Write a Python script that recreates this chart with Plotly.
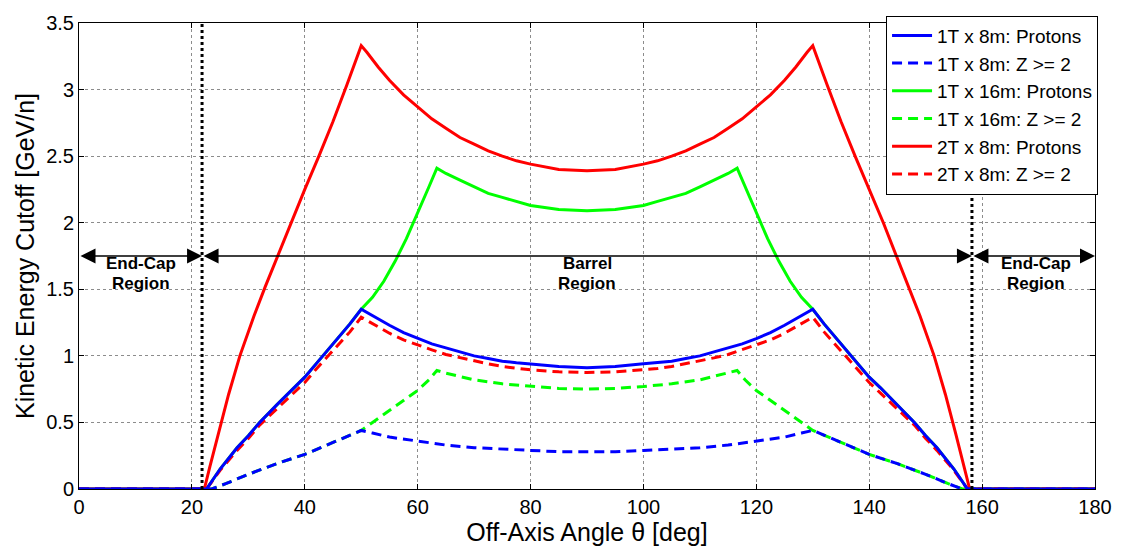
import plotly.graph_objects as go

# ---------------- data ----------------
# 2T x 8m : Protons
red_sol_x = [0, 22.2, 23.2, 24.7, 26.5, 28.5, 31, 33, 35, 37.5, 40, 42.5, 45, 47.5, 50, 51, 53, 55, 57.5, 60, 62.5,
             65, 67.5, 70, 72.5, 75, 77.5, 80, 85, 90,
             95, 100, 102.5, 105, 107.5, 110, 112.5, 115, 117.5, 120, 122.5, 125, 127, 129, 130,
             132.5, 135, 137.5, 140, 142.5, 145, 147, 149, 151.5, 153.5, 155.3, 156.8, 157.8, 180]
red_sol_y = [0, 0, 0.17, 0.42, 0.71, 1.0, 1.3, 1.52, 1.73, 2.0, 2.25, 2.5, 2.76, 3.04, 3.33, 3.28, 3.17, 3.07, 2.96,
             2.87, 2.78, 2.71, 2.64, 2.59, 2.54, 2.50, 2.465, 2.44, 2.40, 2.39,
             2.40, 2.44, 2.465, 2.50, 2.54, 2.59, 2.64, 2.71, 2.78, 2.87, 2.96, 3.07, 3.17, 3.28, 3.33,
             3.04, 2.76, 2.5, 2.25, 2.0, 1.73, 1.52, 1.3, 1.0, 0.71, 0.42, 0.17, 0, 0]

# 1T x 8m : Protons
blue_sol_x = [0, 22.6, 25, 28, 30, 32, 35, 38, 40, 42, 45, 48, 50, 52, 55, 57.5, 60, 62.5, 65, 67.5, 70, 72.5, 75,
              77.5, 80, 85, 90,
              95, 100, 102.5, 105, 107.5, 110, 112.5, 115, 117.5, 120, 122.5, 125, 128, 130,
              132, 135, 138, 140, 142, 145, 148, 150, 152, 155, 157.4, 180]
blue_sol_y = [0, 0, 0.15, 0.31, 0.40, 0.50, 0.63, 0.76, 0.84, 0.94, 1.09, 1.24, 1.35, 1.30, 1.23, 1.175, 1.13, 1.09,
              1.06, 1.03, 1.00, 0.98, 0.96, 0.948, 0.94, 0.92, 0.91,
              0.92, 0.94, 0.948, 0.96, 0.98, 1.00, 1.03, 1.06, 1.09, 1.13, 1.175, 1.23, 1.30, 1.35,
              1.24, 1.09, 0.94, 0.84, 0.76, 0.63, 0.50, 0.40, 0.31, 0.15, 0, 0]

# 2T x 8m : Z >= 2
red_dash_x = [0, 22.6, 25, 28, 30, 32, 35, 38, 40, 42, 45, 48, 50, 52, 55, 57.5, 60, 62.5, 65, 67.5, 70, 72.5, 75,
              77.5, 80, 85, 90,
              95, 100, 102.5, 105, 107.5, 110, 112.5, 115, 117.5, 120, 122.5, 125, 128, 130,
              132, 135, 138, 140, 142, 145, 148, 150, 152, 155, 157.4, 180]
red_dash_y = [0, 0, 0.14, 0.29, 0.38, 0.48, 0.60, 0.72, 0.80, 0.90, 1.04, 1.18, 1.29, 1.24, 1.17, 1.12, 1.08, 1.045,
              1.01, 0.985, 0.96, 0.94, 0.92, 0.905, 0.895, 0.88, 0.875,
              0.88, 0.895, 0.905, 0.92, 0.94, 0.96, 0.985, 1.01, 1.045, 1.08, 1.12, 1.17, 1.24, 1.29,
              1.18, 1.04, 0.90, 0.80, 0.72, 0.60, 0.48, 0.38, 0.29, 0.14, 0, 0]

# 1T x 8m : Z >= 2
blue_dash_x = [0, 23.5, 26, 30, 35, 40, 45, 50, 52, 55, 60, 65, 70, 75, 80, 85, 90, 95, 100, 105, 110, 115, 120, 125,
               128, 130, 135, 140, 145, 150, 154, 156.5, 180]
blue_dash_y = [0, 0, 0.04, 0.11, 0.19, 0.26, 0.35, 0.44, 0.42, 0.39, 0.36, 0.33, 0.31, 0.30, 0.29, 0.28, 0.28, 0.28,
               0.29, 0.30, 0.31, 0.33, 0.36, 0.39, 0.42, 0.44, 0.35, 0.26, 0.19, 0.11, 0.04, 0, 0]

# 1T x 16m : Protons
green_sol_x = [0, 22.6, 25, 28, 30, 32, 35, 38, 40, 42, 45, 48, 50, 52, 54, 56, 58, 60, 62, 63.4, 65, 67.5, 70,
               72.5, 75, 77.5, 80, 85, 90,
               95, 100, 102.5, 105, 107.5, 110, 112.5, 115, 116.6, 118, 120, 122, 124, 126, 128, 130,
               132, 135, 138, 140, 142, 145, 148, 150, 152, 155, 157.4, 180]
green_sol_y = [0, 0, 0.15, 0.31, 0.40, 0.50, 0.63, 0.76, 0.84, 0.94, 1.09, 1.24, 1.35, 1.44, 1.56, 1.71, 1.88, 2.07,
               2.27, 2.41, 2.37, 2.32, 2.27, 2.22, 2.19, 2.16, 2.13, 2.10, 2.09,
               2.10, 2.13, 2.16, 2.19, 2.22, 2.27, 2.32, 2.37, 2.41, 2.27, 2.07, 1.88, 1.71, 1.56, 1.44, 1.35,
               1.24, 1.09, 0.94, 0.84, 0.76, 0.63, 0.50, 0.40, 0.31, 0.15, 0, 0]

# 1T x 16m : Z >= 2
green_dash_x = [0, 23.5, 26, 30, 35, 40, 45, 50, 52, 54, 56, 58, 60, 62, 63.4, 65, 70, 75, 80, 85, 90, 95, 100, 105,
                110, 115, 116.6, 118, 120, 122, 124, 126, 128, 130, 135, 140, 145, 150, 154, 156.5, 180]
green_dash_y = [0, 0, 0.04, 0.11, 0.19, 0.26, 0.35, 0.44, 0.50, 0.56, 0.62, 0.68, 0.74, 0.82, 0.89, 0.87, 0.82, 0.79,
                0.77, 0.755, 0.75, 0.755, 0.77, 0.79, 0.82, 0.87, 0.89, 0.82, 0.74, 0.68, 0.62, 0.56, 0.50, 0.44,
                0.35, 0.26, 0.19, 0.11, 0.04, 0, 0]

x_ticks = [0, 20, 40, 60, 80, 100, 120, 140, 160, 180]
x_tick_text = ["0", "20", "40", "60", "80", "100", "120", "140", "160", "180"]
y_ticks = [0, 0.5, 1, 1.5, 2, 2.5, 3, 3.5]
y_tick_text = ["0", "0.5", "1", "1.5", "2", "2.5", "3", "3.5"]

region_bounds = [21.8, 158.2]
arrow_level = 1.75

FONT = "Liberation Sans, Arial, sans-serif"
BLUE = "#0000FF"
GREEN = "#00FF00"
RED = "#FF0000"
DASH = "10px,6px"
LW = 3

fig = go.Figure()

# drawing order: green under blue, red dashed under blue solid
fig.add_trace(go.Scatter(x=green_sol_x, y=green_sol_y, mode="lines", name="1T x 16m: Protons",
                         line=dict(color=GREEN, width=LW), legendrank=3))
fig.add_trace(go.Scatter(x=green_dash_x, y=green_dash_y, mode="lines", name="1T x 16m: Z >= 2",
                         line=dict(color=GREEN, width=LW, dash=DASH), legendrank=4))
fig.add_trace(go.Scatter(x=red_sol_x, y=red_sol_y, mode="lines", name="2T x 8m: Protons",
                         line=dict(color=RED, width=LW), legendrank=5))
fig.add_trace(go.Scatter(x=red_dash_x, y=red_dash_y, mode="lines", name="2T x 8m: Z >= 2",
                         line=dict(color=RED, width=LW, dash=DASH), legendrank=6))
fig.add_trace(go.Scatter(x=blue_dash_x, y=blue_dash_y, mode="lines", name="1T x 8m: Z >= 2",
                         line=dict(color=BLUE, width=LW, dash=DASH), legendrank=2))
fig.add_trace(go.Scatter(x=blue_sol_x, y=blue_sol_y, mode="lines", name="1T x 8m: Protons",
                         line=dict(color=BLUE, width=LW), legendrank=1))

# region boundaries
for xb in region_bounds:
    fig.add_shape(type="line", x0=xb, x1=xb, y0=0, y1=3.5, xref="x", yref="y",
                  line=dict(color="black", width=3, dash="dot"), layer="above")

# double-headed arrows
segs = [(0, region_bounds[0]), (region_bounds[0], region_bounds[1]), (region_bounds[1], 180)]
for a, b in segs:
    fig.add_annotation(x=b, y=arrow_level, ax=a, ay=arrow_level, xref="x", yref="y", axref="x", ayref="y",
                       text="", showarrow=True, arrowhead=2, startarrowhead=2, arrowside="end+start",
                       arrowsize=2, startarrowsize=2, arrowwidth=1.5, arrowcolor="black")

labels = [(11.0, "End-Cap"), (90, "Barrel"), (169.5, "End-Cap")]
for xl, t in labels:
    fig.add_annotation(x=xl, y=1.69, xref="x", yref="y", text="<b>%s</b>" % t, showarrow=False,
                       font=dict(family=FONT, size=17, color="black"))
    fig.add_annotation(x=xl, y=1.546, xref="x", yref="y", text="<b>Region</b>", showarrow=False,
                       font=dict(family=FONT, size=17, color="black"))

axis_common = dict(showline=True, linecolor="black", linewidth=1, mirror="ticks", ticks="inside",
                   ticklen=5, tickcolor="black", showgrid=True, gridcolor="#8c8c8c", griddash="dot",
                   gridwidth=1, zeroline=False, tickfont=dict(family=FONT, size=20, color="black"))

fig.update_layout(
    width=1124, height=550,
    margin=dict(l=79, r=23, t=13, b=58),
    paper_bgcolor="white", plot_bgcolor="white",
    font=dict(family=FONT, color="black"),
    xaxis=dict(range=[0, 180], tickvals=x_ticks, ticktext=x_tick_text,
               title=dict(text="Off-Axis Angle \u03b8 [deg]", font=dict(family=FONT, size=25), standoff=2),
               **axis_common),
    yaxis=dict(range=[0, 3.5], tickvals=y_ticks, ticktext=y_tick_text,
               title=dict(text="Kinetic Energy Cutoff [GeV/n]", font=dict(family=FONT, size=25), standoff=4),
               **axis_common),
    legend=dict(x=1.003, y=1.016, xanchor="right", yanchor="top", bgcolor="white", bordercolor="black",
                borderwidth=1, font=dict(family=FONT, size=19, color="black"), tracegroupgap=0,
                itemwidth=40),
    showlegend=True,
)

fig.write_html("out.html")
